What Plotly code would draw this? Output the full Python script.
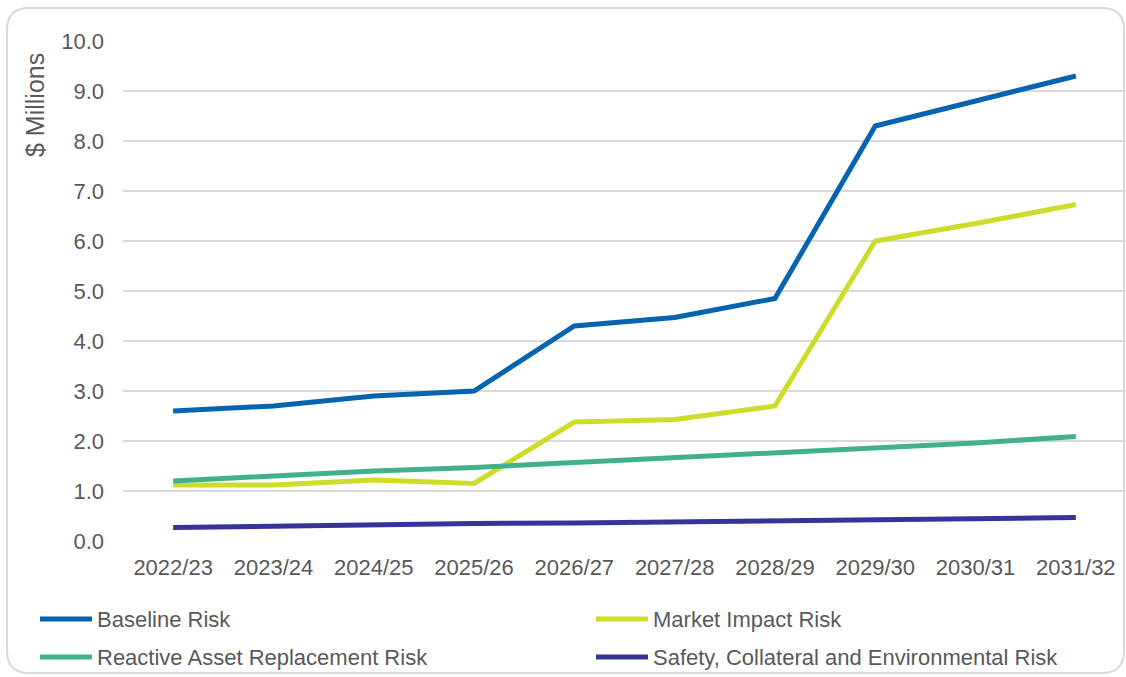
import plotly.graph_objects as go

years = ["2022/23", "2023/24", "2024/25", "2025/26", "2026/27",
         "2027/28", "2028/29", "2029/30", "2030/31", "2031/32"]
baseline = [2.60, 2.70, 2.90, 3.00, 4.30, 4.47, 4.85, 8.30, 8.80, 9.30]
market = [1.12, 1.12, 1.22, 1.15, 2.38, 2.43, 2.70, 6.00, 6.35, 6.73]
reactive = [1.20, 1.30, 1.40, 1.47, 1.57, 1.66, 1.76, 1.86, 1.96, 2.09]
safety = [0.27, 0.30, 0.33, 0.35, 0.36, 0.38, 0.40, 0.42, 0.45, 0.47]

series_names = ["Baseline Risk", "Market Impact Risk",
                "Reactive Asset Replacement Risk",
                "Safety, Collateral and Environmental Risk"]
series_values = [baseline, market, reactive, safety]
colors = ["#0563B0", "#CDDC29", "#41B08D", "#36349A"]

W, H = 1126, 677
L, R, T, B = 123, 0, 41, 136
PW, PH = W - L - R, H - T - B


def px(x):
    return (x - L) / PW


def py(y):
    return (H - B - y) / PH


FONT = "Liberation Sans, Arial, sans-serif"
TXT = "#595959"

fig = go.Figure()
for name, vals, col in zip(series_names, series_values, colors):
    fig.add_trace(go.Scatter(x=years, y=vals, name=name, mode="lines",
                             line=dict(color=col, width=5), showlegend=False))

shapes = []
annotations = []

# Rounded border
x0, x1, y0, y1, r = 7, 1124, 8, 673, 22
path = (f"M {px(x0+r)},{py(y0)} L {px(x1-r)},{py(y0)} "
        f"Q {px(x1)},{py(y0)} {px(x1)},{py(y0+r)} "
        f"L {px(x1)},{py(y1-r)} Q {px(x1)},{py(y1)} {px(x1-r)},{py(y1)} "
        f"L {px(x0+r)},{py(y1)} Q {px(x0)},{py(y1)} {px(x0)},{py(y1-r)} "
        f"L {px(x0)},{py(y0+r)} Q {px(x0)},{py(y0)} {px(x0+r)},{py(y0)} Z")
shapes.append(dict(type="path", xref="paper", yref="paper", path=path,
                   line=dict(color="#D9D9D9", width=2), layer="below"))

# Manual legend
legend_pos = [(40, 619), (596, 619), (40, 657), (596, 657)]
for (lx, ly), name, col in zip(legend_pos, series_names, colors):
    shapes.append(dict(type="line", xref="paper", yref="paper",
                       x0=px(lx), x1=px(lx + 52), y0=py(ly), y1=py(ly),
                       line=dict(color=col, width=5)))
    annotations.append(dict(xref="paper", yref="paper", x=px(lx + 55), y=py(ly),
                            text=name, showarrow=False, xanchor="left",
                            yanchor="middle",
                            font=dict(family=FONT, size=22, color=TXT)))

annotations.append(dict(xref="paper", yref="paper", x=px(35), y=py(105),
                        text="$ Millions", textangle=-90, showarrow=False,
                        xanchor="center", yanchor="middle",
                        font=dict(family=FONT, size=25, color=TXT)))

fig.update_layout(
    width=W, height=H,
    margin=dict(l=L, r=R, t=T, b=B),
    paper_bgcolor="white", plot_bgcolor="white",
    font=dict(family=FONT, size=22, color=TXT),
    shapes=shapes, annotations=annotations,
    xaxis=dict(type="category", range=[-0.5, 9.5], showgrid=False,
               showline=False, zeroline=False, ticks="",
               ticklabelstandoff=11,
               tickfont=dict(family=FONT, size=22, color=TXT)),
    yaxis=dict(range=[0, 10], dtick=1, tickformat=".1f", showgrid=True,
               gridcolor="#D9D9D9", gridwidth=1.5, zeroline=False,
               showline=False, ticks="", ticklabelstandoff=18,
               tickfont=dict(family=FONT, size=22, color=TXT)),
)

fig.write_html("out.html")
